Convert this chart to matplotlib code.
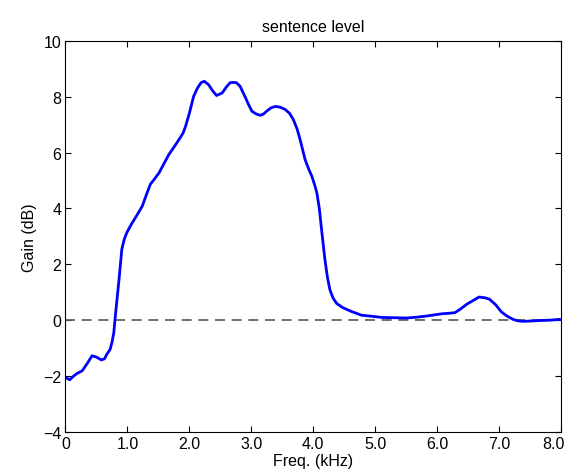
import numpy as np
import matplotlib
matplotlib.use('Agg')
import matplotlib.pyplot as plt
import matplotlib.transforms as mtransforms

plt.rcParams['font.family'] = ['Liberation Sans', 'DejaVu Sans']

# frequency (kHz) and gain (dB)
freq = [0.0, 0.07, 0.13, 0.19, 0.27, 0.35, 0.43, 0.50, 0.58, 0.63, 0.67, 0.72, 0.75, 0.78,
        0.80, 0.83, 0.86, 0.91, 0.95, 0.99, 1.06, 1.13, 1.24, 1.30, 1.37, 1.44, 1.51,
        1.59, 1.67, 1.76, 1.85, 1.90, 1.94, 2.00, 2.07, 2.13, 2.19, 2.24, 2.31, 2.38,
        2.44, 2.53, 2.60, 2.66, 2.70, 2.76, 2.82, 2.90, 2.95, 3.01, 3.08, 3.15, 3.20,
        3.25, 3.32, 3.39, 3.47, 3.55, 3.62, 3.68, 3.74, 3.79, 3.87, 3.93, 3.98, 4.03,
        4.06, 4.10, 4.13, 4.19, 4.23, 4.27, 4.32, 4.38, 4.48, 4.60, 4.78, 4.95, 5.11,
        5.30, 5.51, 5.68, 5.83, 6.08, 6.20, 6.29, 6.38, 6.48, 6.58, 6.68, 6.78, 6.85,
        6.95, 7.04, 7.13, 7.23, 7.30, 7.39, 7.50, 7.66, 7.82, 7.98]
gain = [-2.05, -2.13, -2.0, -1.9, -1.81, -1.55, -1.27, -1.32, -1.42, -1.38, -1.21, -1.05,
        -0.8, -0.45, 0.03, 0.7, 1.35, 2.54, 2.9, 3.13, 3.42, 3.67, 4.08, 4.45, 4.86, 5.06,
        5.27, 5.6, 5.93, 6.22, 6.52, 6.7, 6.94, 7.4, 8.01, 8.3, 8.5, 8.55, 8.43, 8.2,
        8.04, 8.13, 8.35, 8.5, 8.51, 8.5, 8.37, 8.0, 7.75, 7.48, 7.38, 7.33, 7.38,
        7.48, 7.6, 7.65, 7.62, 7.54, 7.4, 7.18, 6.85, 6.46, 5.75, 5.4, 5.15, 4.8,
        4.56, 4.0, 3.37, 2.18, 1.55, 1.1, 0.8, 0.6, 0.45, 0.33, 0.18, 0.14, 0.1,
        0.09, 0.08, 0.11, 0.15, 0.23, 0.25, 0.27, 0.4, 0.57, 0.7, 0.83, 0.8, 0.75,
        0.55, 0.3, 0.15, 0.03, -0.02, -0.04, -0.03, -0.01, 0.0, 0.03]

xticks = [0, 1, 2, 3, 4, 5, 6, 7, 8]
xlabels = ['0', '1.0', '2.0', '3.0', '4.0', '5.0', '6.0', '7.0', '8.0']
yticks = [-4, -2, 0, 2, 4, 6, 8, 10]

fig = plt.figure(figsize=(5.67, 4.77), dpi=100)
ax = fig.add_axes([0.1155, 0.0922, 0.8735, 0.8203])

ax.plot([0, 8], [0, 0], '--', color='#555555', lw=1.2, dashes=(6, 4))
ax.plot(freq, gain, color='#0000ff', lw=2.0)

ax.set_xlim(0, 8)
ax.set_ylim(-4, 10)
ax.set_xticks(xticks)
ax.set_xticklabels(xlabels)
ax.set_yticks(yticks)
ax.tick_params(direction='in', top=True, right=True, labelsize=11.5, length=4, pad=3)
ax.set_xlabel('Freq. (kHz)', fontsize=11.5, labelpad=1)
ax.set_ylabel('Gain (dB)', fontsize=11.5, labelpad=4)
ax.set_title('sentence level', fontsize=11.5, pad=7)

# last x label sits left of its tick like the original
last = ax.get_xticklabels()[-1]
last.set_ha('right')
last.set_transform(last.get_transform() + mtransforms.ScaledTranslation(0.04, 0, fig.dpi_scale_trans))

fig.savefig('out.png', dpi=100)
